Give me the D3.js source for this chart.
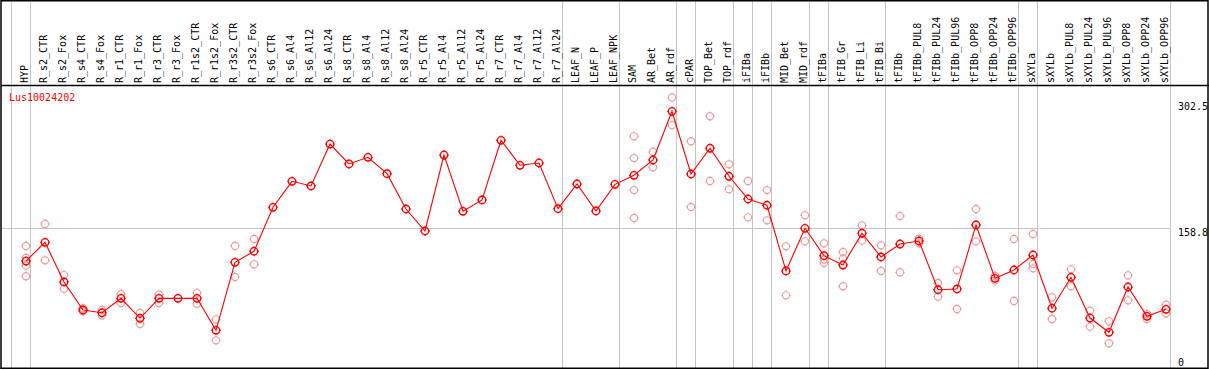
<!DOCTYPE html>
<html>
<head>
<meta charset="utf-8">
<script src="https://cdn.jsdelivr.net/npm/d3@7"></script>
<style>
  body { margin: 0; background: #fff; }
  text { font-family: "DejaVu Sans Mono", monospace; font-size: 10px; }
</style>
</head>
<body>
<svg id="chart" width="1209" height="370"></svg>
<script>
let width = 1209;
let height = 370;

let geneId = "Lus10024202";

let categories = ["HYP", "R_s2_CTR", "R_s2_Fox", "R_s4_CTR", "R_s4_Fox", "R_r1_CTR", "R_r1_Fox",
  "R_r3_CTR", "R_r3_Fox", "R_r1s2_CTR", "R_r1s2_Fox", "R_r3s2_CTR", "R_r3s2_Fox",
  "R_s6_CTR", "R_s6_Al4", "R_s6_Al12", "R_s6_Al24", "R_s8_CTR", "R_s8_Al4", "R_s8_Al12", "R_s8_Al24",
  "R_r5_CTR", "R_r5_Al4", "R_r5_Al12", "R_r5_Al24", "R_r7_CTR", "R_r7_Al4", "R_r7_Al12", "R_r7_Al24",
  "LEAF_N", "LEAF_P", "LEAF_NPK", "SAM", "AR_Bet", "AR_rdf", "cPAR", "TOP_Bet", "TOP_rdf",
  "iFIBa", "iFIBb", "MID_Bet", "MID_rdf", "tFIBa", "tFIB_Gr", "tFIB_Li", "tFIB_Bi", "tFIBb",
  "tFIBb_PUL8", "tFIBb_PUL24", "tFIBb_PUL96", "tFIBb_OPP8", "tFIBb_OPP24", "tFIBb_OPP96",
  "sXYLa", "sXYLb", "sXYLb_PUL8", "sXYLb_PUL24", "sXYLb_PUL96", "sXYLb_OPP8", "sXYLb_OPP24", "sXYLb_OPP96"];

// mean expression per sample
let means = [118.6, 141.6, 92.9, 58.5, 55.1, 72.8, 48.3, 72.8, 72.8, 72.8, 33.5, 117.0, 130.6,
  184.6, 216.5, 210.8, 262.3, 237.8, 246.0, 225.9, 182.5, 155.5, 248.8, 179.7, 193.6,
  266.9, 236.2, 239.0, 182.9, 213.2, 180.1, 212.8, 223.9, 242.7, 302.5, 225.5, 257.1, 222.7,
  194.8, 187.1, 106.4, 158.8, 125.2, 113.7, 152.7, 123.6, 139.5, 143.2, 83.4, 84.3,
  162.9, 97.4, 107.6, 126.0, 60.6, 98.6, 48.6, 31.1, 86.7, 50.7, 59.3];

// individual replicates per sample
let replicates = [
  [137.1, 122.7, 112.9, 99.9], [164.1, 119.5], [101.4, 84.6], [60.6, 56.9], [58.5, 51.7],
  [78.1, 67.1], [54.8, 41.3], [77.3, 67.1], [], [79.3, 66.2], [47.0, 21.2], [137.1, 99.0], [145.7, 114.6],
  [], [], [], [], [], [], [], [], [], [], [], [], [], [], [], [], [], [], [],
  [271.8, 245.1, 205.8, 171.5], [252.5, 233.7], [319.5, 285.5], [265.7, 185.0], [296.4, 216.9],
  [237.4, 206.7], [216.9, 172.3], [205.8, 168.6], [136.7, 76.5], [174.8, 142.8],
  [140.4, 120.5, 116.2], [129.7, 121.5, 87.6], [162.5, 143.6], [137.9, 106.4], [173.9, 104.8],
  [146.0, 140.4], [91.6, 74.8], [107.2, 59.7], [182.5, 142.8], [100.2, 94.7], [145.7, 69.5],
  [151.8, 115.0, 109.7], [74.1, 47.4], [108.4, 87.6], [57.6, 38.0], [44.6, 17.6],
  [101.1, 70.4], [53.5, 47.4], [65.0, 54.4]];

let yTicks = [0, 158.8, 302.5];
let refValue = 158.8;

// samples that start a new group (vertical divider on their left)
let dividers = ["HYP", "R_s2_CTR", "LEAF_N", "SAM", "cPAR", "TOP_Bet", "iFIBa", "iFIBb",
  "MID_Bet", "tFIBa", "tFIB_Gr", "tFIBb", "sXYLa", "sXYLb"];

let plotLeft = 11, plotRight = 1170, headerY = 85.5;

let x = d3.scaleBand().domain(categories).range([plotLeft, plotRight]);
let y = d3.scaleLinear().domain([0, 302.5]).range([357.6, 111.3]);
let px = d => x(d) + 15;

let svg = d3.select("#chart");

// grid lines
let grid = svg.append("g").attr("stroke", "#c4c4c4").attr("stroke-width", 1);
dividers.forEach(function(c){
  grid.append("line").attr("x1", Math.round(x(c)) + 0.5).attr("x2", Math.round(x(c)) + 0.5)
      .attr("y1", 1).attr("y2", 368);
});
grid.append("line").attr("x1", plotRight + 0.5).attr("x2", plotRight + 0.5).attr("y1", 1).attr("y2", 368);
grid.append("line").attr("x1", 2).attr("x2", plotRight)
    .attr("y1", Math.round(y(refValue)) + 0.5).attr("y2", Math.round(y(refValue)) + 0.5);

// frame + header separator
svg.append("rect").attr("x", 1).attr("y", 0.75).attr("width", 1207).attr("height", 367.5)
   .attr("fill", "none").attr("stroke", "#000").attr("stroke-width", 1.5);
svg.append("line").attr("x1", 1).attr("x2", width).attr("y1", headerY).attr("y2", headerY)
   .attr("stroke", "#000").attr("stroke-width", 1.3);

// sample labels in header
svg.append("g").selectAll("text")
   .data(categories)
   .enter()
   .append("text")
   .attr("transform", d => `translate(${x(d) + 13.5},83) rotate(-90)`)
   .attr("dominant-baseline", "central")
   .attr("fill", "#000")
   .text(d => d);

svg.append("text").attr("x", 9).attr("y", 97).attr("dominant-baseline", "central")
   .attr("fill", "#ff0000").text(geneId);

// value labels on the right
svg.append("g").selectAll("text")
   .data(yTicks)
   .enter()
   .append("text")
   .attr("x", 1178)
   .attr("y", d => d === d3.max(yTicks) ? y(d) - 4.6 : y(d) + 4.4)
   .attr("dominant-baseline", "central")
   .attr("fill", "#000")
   .text(d => d);

// tiny marks sticking out of each circle, like the pixel-drawn originals
function ticks(sel, r){
  sel.append("path")
     .attr("stroke-width", 1)
     .attr("d", d => {
       let cx = d.x, cy = d.y;
       return `M${cx - r - 1.2},${cy}h1M${cx + r + 0.2},${cy}h1M${cx},${cy - r - 1.2}v1M${cx},${cy + r + 0.2}v1`;
     });
}

// replicate circles
let repData = [];
categories.forEach(function(c, i){
  replicates[i].forEach(v => repData.push({x: px(c), y: y(v)}));
});
let reps = svg.append("g").attr("stroke", "#f09a9a").attr("fill", "none").attr("stroke-width", 1.1)
  .selectAll("g").data(repData).enter().append("g");
reps.append("circle").attr("cx", d => d.x).attr("cy", d => d.y).attr("r", 3.6);
ticks(reps, 3.6);

// mean line
let meanData = categories.map((c, i) => ({x: px(c), y: y(means[i])}));
svg.append("path")
   .datum(meanData)
   .attr("d", d3.line().x(d => d.x).y(d => d.y))
   .attr("fill", "none")
   .attr("stroke", "#ff0000")
   .attr("stroke-width", 1.1);

let pts = svg.append("g").attr("stroke", "#ff0000").attr("fill", "none").attr("stroke-width", 1.4)
  .selectAll("g").data(meanData).enter().append("g");
pts.append("circle").attr("cx", d => d.x).attr("cy", d => d.y).attr("r", 3.7);
ticks(pts, 3.7);
</script>
</body>
</html>
